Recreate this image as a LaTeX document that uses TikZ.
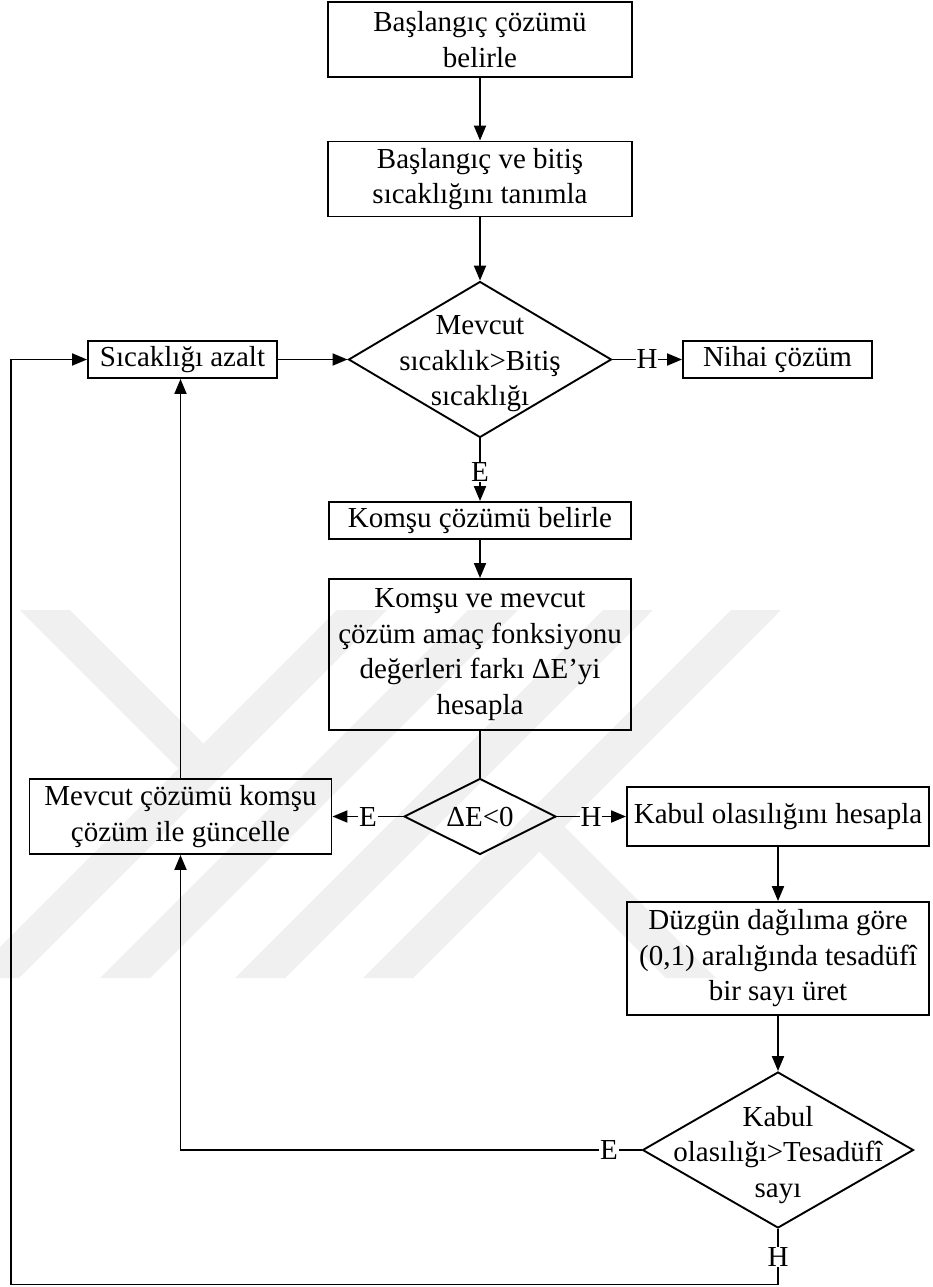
\documentclass[tikz,border=0pt]{standalone}
\usepackage{fontspec}
\setmainfont{Liberation Serif}
\usetikzlibrary{arrows.meta,shapes.geometric}

\tikzset{
  every picture/.style={x=1pt,y=-1pt},
  txtfont/.style={font=\fontsize{29}{35.5}\selectfont},
  box/.style={draw=black, line width=1.9pt, rectangle, inner sep=2pt,
    align=center, txtfont},
  dia/.style={draw=black, line width=1.9pt, diamond, inner sep=0pt},
  lbl/.style={inner sep=0.6pt, txtfont},
  dtext/.style={align=center, inner sep=0pt, txtfont},
  flow/.style={line width=1.9pt},
  arr/.style={flow, -{Triangle[length=15pt,width=12pt]}},
  wm/.style={fill=black!6, draw=none}
}

\begin{document}
\begin{tikzpicture}
\useasboundingbox (0,0) rectangle (932,1287);
\fill[white] (0,0) rectangle (932,1287);

% faint background emblem made of 45-degree bands
\begin{scope}
  \clip (0,610) rectangle (932,978);
  \foreach \xo in {-31,100,235,363}{
    \fill[wm] (\xo,978) -- ++(50,0) -- ++(400,-400) -- ++(-50,0) -- cycle;
  }
  % left chevron arm, ending on the first rising band
  \fill[wm] (20,610) -- (70,610) -- (228.5,768.5) -- (203.5,793.5) -- cycle;
  % branch falling to the right from the last rising band
  \fill[wm] (666,978) -- (716,978) -- (539.5,801.5) -- (514.5,826.5) -- cycle;
\end{scope}

% process boxes
\node[box, minimum width=304pt, minimum height=75pt] (start) at (480,39.5)
  {Başlangıç çözümü\\belirle};
\node[box, minimum width=304pt, minimum height=75pt] (temps) at (480,179)
  {Başlangıç ve bitiş\\sıcaklığını tanımla};
\node[box, minimum width=189pt, minimum height=37pt] (cool) at (182.5,359.5)
  {Sıcaklığı azalt};
\node[box, minimum width=189pt, minimum height=37pt] (final) at (777.5,359.5)
  {Nihai çözüm};
\node[box, minimum width=302pt, minimum height=37pt] (neigh) at (480,520.5)
  {Komşu çözümü belirle};
\node[box, minimum width=302pt, minimum height=151pt] (delta) at (480,654.5)
  {Komşu ve mevcut\\çözüm amaç fonksiyonu\\değerleri farkı ΔE’yi\\hesapla};
\node[box, minimum width=302pt, minimum height=75pt] (update) at (180.5,816.5)
  {Mevcut çözümü komşu\\çözüm ile güncelle};
\node[box, minimum width=302pt, minimum height=59pt] (prob) at (778,816.5)
  {Kabul olasılığını hesapla};
\node[box, minimum width=302pt, minimum height=113pt] (rand) at (778,958.5)
  {Düzgün dağılıma göre\\(0,1) aralığında tesadüfî\\bir sayı üret};

% decisions
\node[dia, minimum width=263pt, minimum height=156pt] (dtemp) at (480,359.5) {};
\node[dtext] at (480,364) {Mevcut\\sıcaklık>Bitiş\\sıcaklığı};
\node[dia, minimum width=152pt, minimum height=76pt] (dneg) at (480,816.5) {};
\node[dtext] at (480,817) {ΔE<0};
\node[dia, minimum width=271pt, minimum height=156pt] (dacc) at (778,1150) {};
\node[dtext] at (778,1155) {Kabul\\olasılığı>Tesadüfî\\sayı};

% branch labels
\node[lbl] (h1) at (647,359.5) {H};
\node[lbl] (e1) at (480,472) {E};
\node[lbl] (e2) at (368,816.5) {E};
\node[lbl] (h2) at (591,816.5) {H};
\node[lbl] (e3) at (609,1150) {E};
\node[lbl] (h3) at (778,1257) {H};

\coordinate (bl) at (11,1284.5);
\coordinate (tl) at (11,359.5);

% connectors
\draw[arr] (start) -- (temps);
\draw[arr] (temps) -- (dtemp);
\draw[arr] (cool) -- (dtemp);
\draw[flow] (dtemp.east) -- (h1.west);
\draw[arr] (h1.east) -- (final.west);
\draw[flow] (dtemp.south) -- (e1.north);
\draw[arr] (e1.south) -- (neigh.north);
\draw[arr] (neigh) -- (delta);
\draw[flow] (delta.south) -- (dneg.north);
\draw[flow] (dneg.west) -- (e2.east);
\draw[arr] (e2.west) -- (update.east);
\draw[flow] (dneg.east) -- (h2.west);
\draw[arr] (h2.east) -- (prob.west);
\draw[arr] (update.north) -- (update.north |- cool.south);
\draw[arr] (prob) -- (rand);
\draw[arr] (rand) -- (dacc);
\draw[flow] (dacc.west) -- (e3.east);
\draw[arr] (e3.west) -| (update.south);
\draw[flow] (dacc.south) -- (h3.north);
\draw[arr] (h3.south) |- (bl) -- (tl) -- (cool.west);
\end{tikzpicture}
\end{document}
